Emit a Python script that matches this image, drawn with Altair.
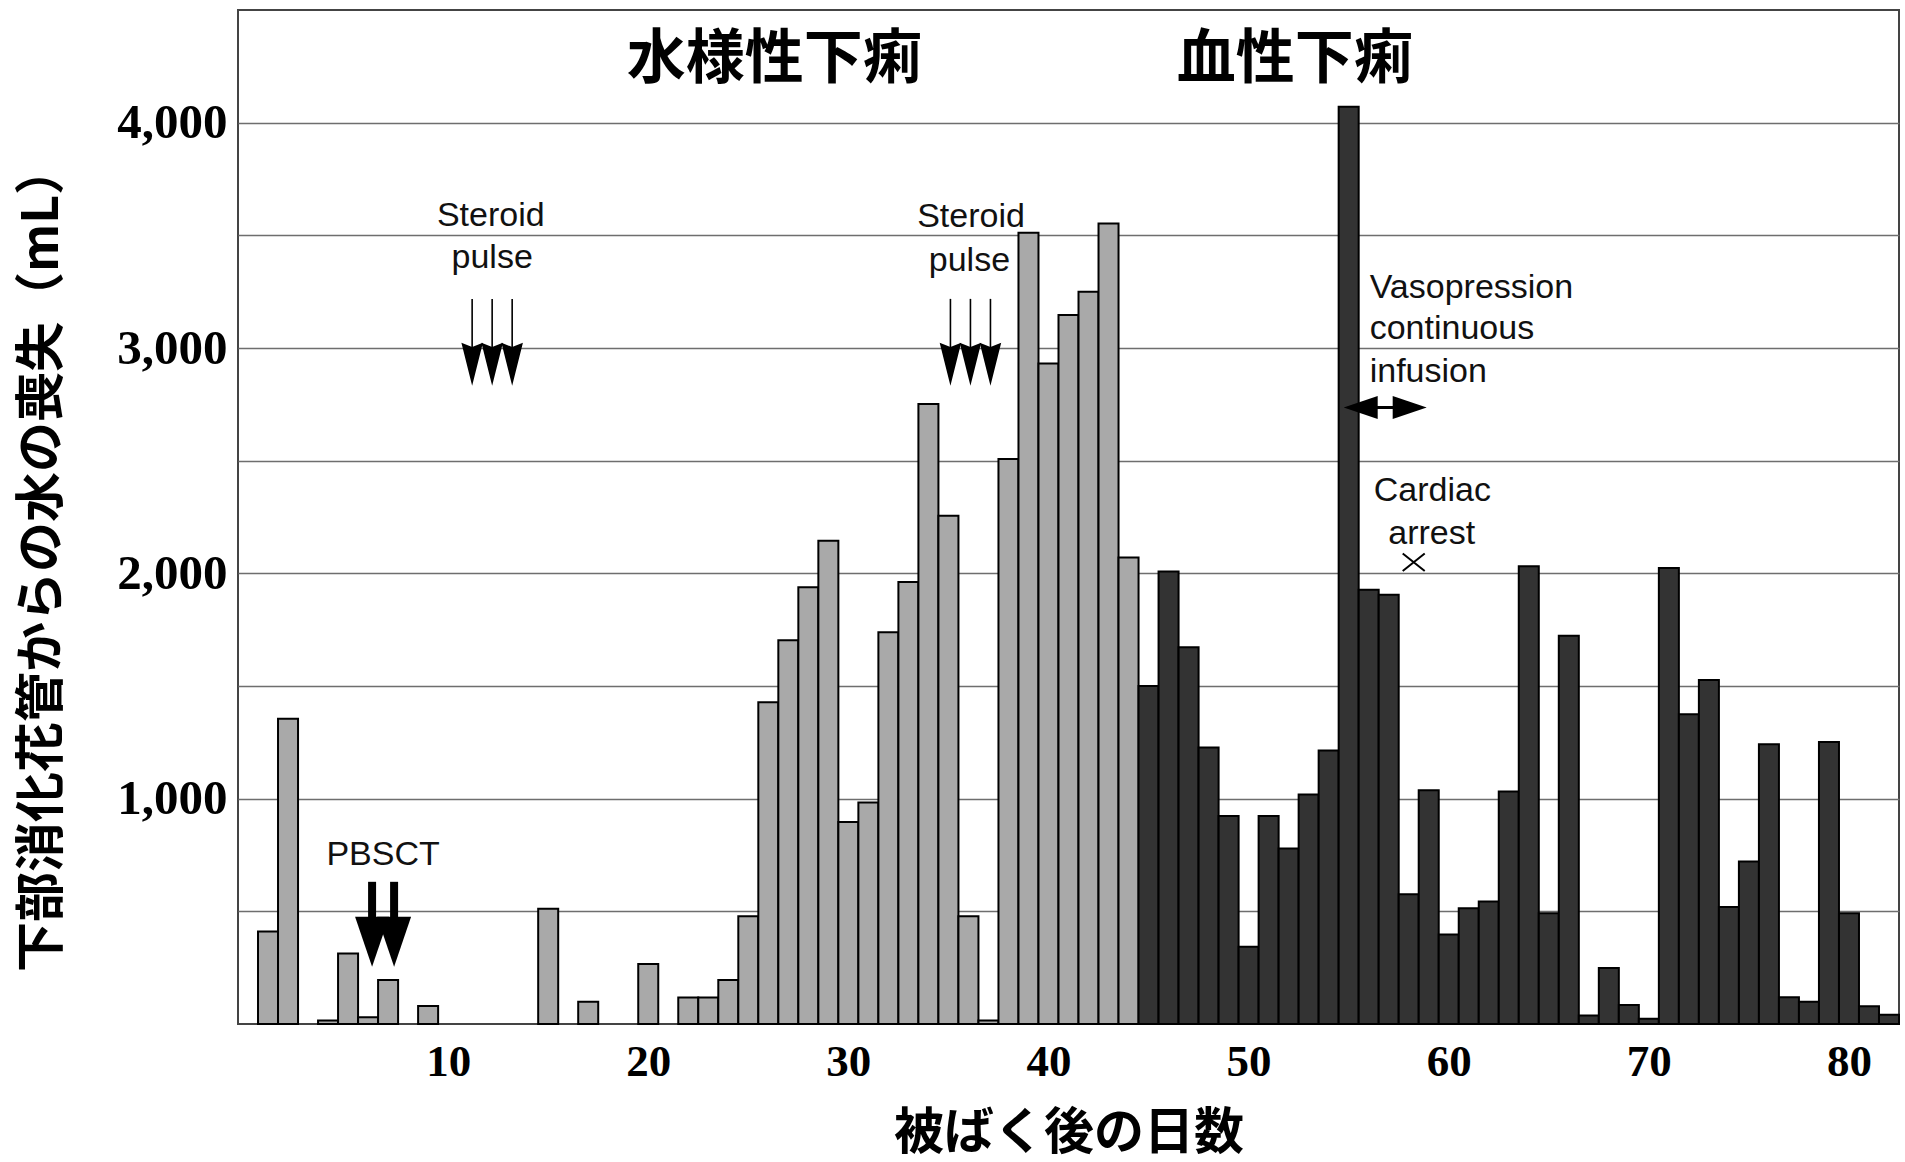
import altair as alt
import pandas as pd

# Daily water loss from the lower GI tract (mL), days 1-82 after exposure
days = list(range(1, 83))
loss_ml = [
    410, 1355, 0, 15, 313, 30, 195, 0, 80, 0,
    0, 0, 0, 0, 511, 0, 99, 0, 0, 266,
    0, 118, 118, 195, 478, 1428, 1703, 1938, 2145, 897,
    983, 1739, 1962, 2752, 2256, 478, 15, 2507, 3512, 2931,
    3147, 3250, 3553, 2070, 1500, 2008, 1672, 1227, 923, 343,
    923, 779, 1018, 1214, 4071, 1927, 1905, 576, 1037, 397,
    514, 544, 1032, 2031, 492, 1723, 38, 249, 84, 23,
    2024, 1375, 1527, 519, 721, 1242, 119, 99, 1252, 492,
    79, 41,
]
phase_names = ["水様性下痢", "血性下痢"]
bloody_from_day = 45
phase_colors = ["#a9a9a9", "#333333"]

x_ticks = [10, 20, 30, 40, 50, 60, 70, 80]
y_grid = [500, 1000, 1500, 2000, 2500, 3000, 3500, 4000]

# Event markers (day, mL)
steroid_days = [11.2, 12.2, 13.2, 35.1, 36.1, 37.1]
pbsct_days = [6.2, 7.3]
cardiac_arrest = {"day": [58.25], "ml": [2049]}

# Annotation texts
note_text = ["Steroid", "pulse", "Steroid", "pulse", "PBSCT",
             "Vasopression", "continuous", "infusion", "Cardiac", "arrest"]
note_day = [12.13, 12.2, 36.13, 36.05, 6.75, 56.05, 56.05, 56.05, 59.18, 59.15]
note_ml = [3542, 3356, 3535, 3342, 705, 3224, 3041, 2847, 2323, 2132]
note_align = ["center", "center", "center", "center", "center",
              "left", "left", "left", "center", "center"]

phase_label_day = [26.3, 52.3]
phase_label_ml = [4277, 4277]

bars = pd.DataFrame({
    "day": days,
    "loss": loss_ml,
    "phase": [phase_names[0] if d < bloody_from_day else phase_names[1] for d in days],
})
bars["x0"] = bars["day"] - 0.5
bars["x1"] = bars["day"] + 0.5

x_scale = alt.Scale(domain=[-0.5, 82.5], nice=False, zero=False)
y_scale = alt.Scale(domain=[0, 4500], nice=False)

x_axis = alt.Axis(
    values=x_ticks, grid=False, ticks=False, domain=False,
    labelFont="Liberation Serif", labelFontWeight="bold", labelFontSize=45,
    labelColor="#000", labelPadding=15,
    title="被ばく後の日数", titleFont="Noto Sans CJK JP", titleFontWeight="bold",
    titleFontSize=50, titleColor="#000", titleBaseline="middle", titleY=109,
)
y_axis = alt.Axis(
    values=y_grid, grid=True, gridColor="#6e6e6e", gridWidth=1.6,
    ticks=False, domain=False,
    labelExpr="datum.value % 1000 === 0 ? format(datum.value, ',') : ''",
    labelFont="Liberation Serif", labelFontWeight="bold", labelFontSize=49,
    labelColor="#000", labelPadding=11,
    title="下部消化花管からの水の喪失（mL）", titleFont="Noto Sans CJK JP",
    titleFontWeight="bold", titleFontSize=50, titleColor="#000",
    titleAngle=270, titleAlign="center", titleBaseline="middle",
    titleX=-196, titleY=548,
)

bar_layer = alt.Chart(bars).transform_filter("datum.loss > 0").mark_rect(
    stroke="#000", strokeWidth=2
).encode(
    x=alt.X("x0:Q", scale=x_scale, axis=x_axis),
    x2="x1:Q",
    y=alt.Y("loss:Q", scale=y_scale, axis=y_axis),
    y2=alt.datum(0),
    color=alt.Color("phase:N", scale=alt.Scale(domain=phase_names, range=phase_colors), legend=None),
)

# Steroid pulse arrows: thin shafts and arrowheads
steroid = pd.DataFrame({"day": steroid_days})
steroid_shaft = alt.Chart(steroid).mark_rule(color="#000", strokeWidth=1.6).encode(
    x=alt.X("day:Q", scale=x_scale), y=alt.datum(3218), y2=alt.datum(2990)
)
steroid_head = alt.Chart(steroid).mark_point(
    shape="M-0.5,-1L0,-0.8L0.5,-1L0,1Z", size=1849, filled=True,
    color="#000", opacity=1, strokeWidth=0
).encode(x=alt.X("day:Q", scale=x_scale), y=alt.datum(2928))

# PBSCT arrows: thick shafts and arrowheads
pbsct = pd.DataFrame({"day": pbsct_days})
pbsct_shaft = alt.Chart(pbsct).mark_rule(color="#000", strokeWidth=8).encode(
    x=alt.X("day:Q", scale=x_scale), y=alt.datum(631), y2=alt.datum(460)
)
pbsct_head = alt.Chart(pbsct).mark_point(
    shape="M-0.68,-1L0.68,-1L0,1Z", size=2500, filled=True,
    color="#000", opacity=1, strokeWidth=0
).encode(x=alt.X("day:Q", scale=x_scale), y=alt.datum(365))

# Vasopression infusion double arrow
vaso = pd.DataFrame({"start": [55.6], "end": [58.05], "ml": [2736]})
vaso_line = alt.Chart(vaso).mark_rule(color="#000", strokeWidth=3).encode(
    x=alt.X("start:Q", scale=x_scale), x2="end:Q", y=alt.Y("ml:Q", scale=y_scale)
)
vaso_left = alt.Chart(vaso).mark_point(
    shape="M1,-0.68L-1,0L1,0.68Z", size=1156, filled=True,
    color="#000", opacity=1, strokeWidth=0
).encode(x=alt.X("start:Q", scale=x_scale), y=alt.Y("ml:Q", scale=y_scale))
vaso_right = alt.Chart(vaso).mark_point(
    shape="M-1,-0.68L1,0L-1,0.68Z", size=1156, filled=True,
    color="#000", opacity=1, strokeWidth=0
).encode(x=alt.X("end:Q", scale=x_scale), y=alt.Y("ml:Q", scale=y_scale))

# Cardiac arrest cross
arrest = alt.Chart(pd.DataFrame(cardiac_arrest)).mark_point(
    shape="M-1,-0.8L1,0.8M-1,0.8L1,-0.8", size=484, filled=False,
    color="#000", opacity=1, strokeWidth=2
).encode(x=alt.X("day:Q", scale=x_scale), y=alt.Y("ml:Q", scale=y_scale))

notes = pd.DataFrame({"day": note_day, "ml": note_ml, "text": note_text, "align": note_align})
notes_center = alt.Chart(notes).transform_filter("datum.align === 'center'").mark_text(
    align="center", baseline="alphabetic", font="Liberation Sans", fontSize=34, color="#111"
).encode(x=alt.X("day:Q", scale=x_scale), y=alt.Y("ml:Q", scale=y_scale), text="text:N")
notes_left = alt.Chart(notes).transform_filter("datum.align === 'left'").mark_text(
    align="left", baseline="alphabetic", font="Liberation Sans", fontSize=34, color="#111"
).encode(x=alt.X("day:Q", scale=x_scale), y=alt.Y("ml:Q", scale=y_scale), text="text:N")

phase_labels = pd.DataFrame({"day": phase_label_day, "ml": phase_label_ml, "text": phase_names})
phase_text = alt.Chart(phase_labels).mark_text(
    align="center", baseline="middle", font="Noto Sans CJK JP", fontWeight="bold",
    fontSize=59, color="#000"
).encode(x=alt.X("day:Q", scale=x_scale), y=alt.Y("ml:Q", scale=y_scale), text="text:N")

chart = alt.layer(
    bar_layer, steroid_shaft, steroid_head, pbsct_shaft, pbsct_head,
    vaso_line, vaso_left, vaso_right, arrest, notes_center, notes_left, phase_text
).properties(
    width=1661, height=1014,
    autosize=alt.AutoSizeParams(type="none"),
    padding={"left": 238, "top": 10, "right": 6, "bottom": 138},
    background="#ffffff",
).configure_view(stroke="#444444", strokeWidth=2)

chart.save("out.html", embed_options={"renderer": "svg", "actions": False})
